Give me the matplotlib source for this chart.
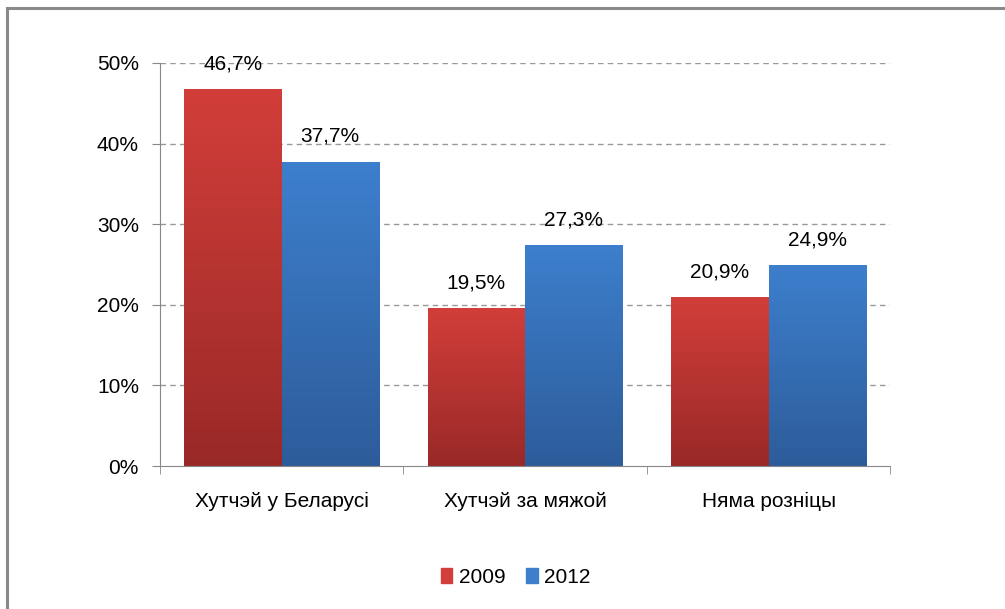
import numpy as np
import matplotlib.pyplot as plt
from matplotlib.patches import Rectangle
from matplotlib.colors import LinearSegmentedColormap

plt.rcParams['font.family'] = ['Liberation Sans', 'DejaVu Sans']

categories = ["Хутчэй у Беларусі", "Хутчэй за мяжой", "Няма розніцы"]
years = ["2009", "2012"]
values_2009 = [46.7, 19.5, 20.9]
values_2012 = [37.7, 27.3, 24.9]
yticks = [0, 10, 20, 30, 40, 50]

# gradient colors (top, bottom)
red_top, red_bot = "#D23E3A", "#992927"
blue_top, blue_bot = "#3D7FCD", "#2D5C9A"
fs = 15

fig = plt.figure(figsize=(10.05, 6.09), dpi=100)
ax = fig.add_axes([0.159, 0.2348, 0.727, 0.6618])

# outer frame
fig.patches.append(Rectangle((7 / 1005, -0.1), 1.2, 1.1 - 8 / 609,
                             transform=fig.transFigure, fill=False,
                             edgecolor="#8a8a8a", linewidth=2.2, zorder=0))

x = np.arange(len(categories))
w = 0.4
b1 = ax.bar(x - w / 2, values_2009, w, color=red_top, label=years[0], zorder=2)
b2 = ax.bar(x + w / 2, values_2012, w, color=blue_top, label=years[1], zorder=2)

grad = np.linspace(0, 1, 256).reshape(-1, 1)
for bars, top, bot in [(b1, red_top, red_bot), (b2, blue_top, blue_bot)]:
    cmap = LinearSegmentedColormap.from_list("g", [bot, top])
    for rect in bars:
        x0, y0 = rect.get_x(), rect.get_y()
        x1, y1 = x0 + rect.get_width(), y0 + rect.get_height()
        ax.imshow(grad, cmap=cmap, extent=(x0, x1, y0, y1), origin="lower",
                  aspect="auto", zorder=2.5)
    for rect in bars:
        h = rect.get_height()
        ax.text(rect.get_x() + rect.get_width() / 2, h + 2.0,
                f"{h:.1f}%".replace(".", ","), ha="center", va="bottom",
                fontsize=fs, color="black", zorder=4)

ax.set_xlim(-0.5, 2.5)
ax.set_ylim(0, 50)
ax.set_yticks(yticks)
ax.set_yticklabels([f"{t}%" for t in yticks], fontsize=fs)
ax.set_xticks(x)
ax.set_xticklabels(categories, fontsize=fs)
ax.set_xticks([-0.5, 0.5, 1.5, 2.5], minor=True)
ax.tick_params(axis="x", which="major", length=0, pad=19)
ax.tick_params(axis="x", which="minor", length=6, color="#888888", direction="out")
ax.tick_params(axis="y", length=6, color="#888888", pad=9)

for yv in yticks[1:]:
    ax.axhline(yv, color="#999999", linestyle=(0, (4, 3)), linewidth=1, zorder=1)

for s in ["top", "right"]:
    ax.spines[s].set_visible(False)
ax.spines["left"].set_color("#888888")
ax.spines["bottom"].set_color("#888888")
ax.spines["bottom"].set_zorder(5)

h1 = Rectangle((0, 0), 1, 1, color=red_top)
h2 = Rectangle((0, 0), 1, 1, color=blue_top)
fig.legend([h1, h2], years, loc="center", bbox_to_anchor=(0.513, 0.052),
           ncol=2, frameon=False, fontsize=fs, handlelength=0.55,
           handleheight=0.7, handletextpad=0.3, columnspacing=1.0)

fig.savefig("out.png", dpi=100)
